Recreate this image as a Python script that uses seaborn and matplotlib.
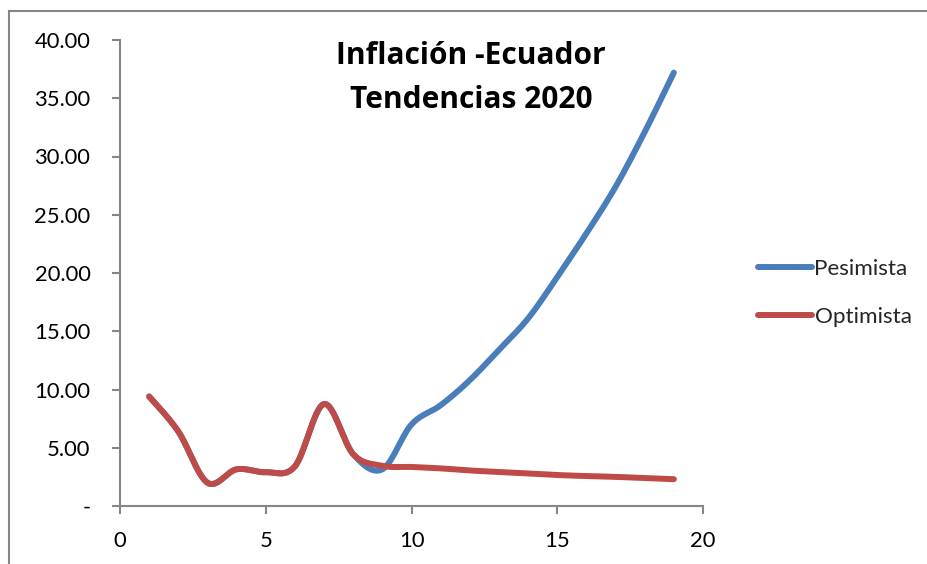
import numpy as np
import pandas as pd
import matplotlib
matplotlib.use("Agg")
import matplotlib.pyplot as plt
import seaborn as sns
from matplotlib.patches import Rectangle
from matplotlib.ticker import FuncFormatter, MultipleLocator

# Inflation series (percent) by period
periodos = list(range(1, 20))
pesimista = [9.4, 6.4, 2.0, 3.15, 2.9, 3.4, 8.75, 4.45, 3.15, 7.0,
             8.65, 10.8, 13.4, 16.1, 19.65, 23.4, 27.4, 32.1, 37.2]
optimista = [9.4, 6.4, 2.0, 3.15, 2.9, 3.4, 8.75, 4.45, 3.45, 3.35,
             3.23, 3.05, 2.92, 2.8, 2.66, 2.57, 2.5, 2.4, 2.3]
series = ["Pesimista", "Optimista"]
colores = ["#4A7EBB", "#BE4B48"]
titulo = ["Inflación -Ecuador", "Tendencias 2020"]

GRIS = "#868686"
FONT = "Lato"
FONT_TITULO = "Open Sans"


def suavizar(x, y, n=30):
    """Smooth a polyline with cubic Bezier segments (Catmull-Rom tangents)."""
    px = np.asarray(x, float)
    py = np.asarray(y, float)
    m = len(px)
    xs, ys = [], []
    for i in range(m - 1):
        i0 = max(i - 1, 0)
        i3 = min(i + 2, m - 1)
        p0 = np.array([px[i], py[i]])
        p3 = np.array([px[i + 1], py[i + 1]])
        c1 = p0 + (np.array([px[i + 1], py[i + 1]]) - np.array([px[i0], py[i0]])) / 6
        c2 = p3 - (np.array([px[i3], py[i3]]) - np.array([px[i], py[i]])) / 6
        t = np.linspace(0, 1, n, endpoint=(i == m - 2))[:, None]
        b = ((1 - t) ** 3) * p0 + 3 * ((1 - t) ** 2) * t * c1 + 3 * (1 - t) * t ** 2 * c2 + t ** 3 * p3
        xs.append(b[:, 0])
        ys.append(b[:, 1])
    return np.concatenate(xs), np.concatenate(ys)


frames = []
for nombre, valores in zip(series, [pesimista, optimista]):
    sx, sy = suavizar(periodos, valores)
    frames.append(pd.DataFrame({"periodo": sx, "valor": sy, "serie": nombre}))
df = pd.concat(frames, ignore_index=True)

sns.set_theme(style="white")
plt.rcParams["font.family"] = [FONT, "DejaVu Sans"]

W, H = 927, 564
fig = plt.figure(figsize=(W / 100, H / 100), dpi=100)
ax = fig.add_axes([120 / W, (H - 506) / H, (703 - 120) / W, (506 - 40) / H])

sns.lineplot(data=df, x="periodo", y="valor", hue="serie", hue_order=series,
             palette=colores, linewidth=4.3, sort=False, estimator=None, ax=ax)
for ln in ax.lines:
    ln.set_solid_capstyle("round")
    ln.set_solid_joinstyle("round")

ax.set_xlim(0, 20)
ax.set_ylim(0, 40)
ax.xaxis.set_major_locator(MultipleLocator(5))
ax.yaxis.set_major_locator(MultipleLocator(5))
ax.yaxis.set_major_formatter(FuncFormatter(lambda v, _: "-" if abs(v) < 1e-9 else f"{v:.2f}"))
ax.set_xlabel("")
ax.set_ylabel("")

for s in ["top", "right"]:
    ax.spines[s].set_visible(False)
for s in ["left", "bottom"]:
    ax.spines[s].set_color(GRIS)
    ax.spines[s].set_linewidth(1.5)

ax.tick_params(axis="both", which="major", direction="out", length=5.8, width=1.5,
               color=GRIS, labelcolor="black", labelsize=15.8)
ax.tick_params(axis="y", pad=15.5, left=True)
ax.tick_params(axis="x", pad=12.5, bottom=True)

leg = ax.legend(loc="center left", bbox_to_anchor=(747 / W, (H - 293) / H),
                bbox_transform=fig.transFigure, frameon=False, fontsize=16.2,
                handlelength=2.4, handletextpad=0.1, labelspacing=1.22, borderpad=0)
for h in leg.get_lines():
    h.set_linewidth(4.3)
    h.set_solid_capstyle("round")

for texto, base in zip(titulo, [64, 108]):
    fig.text(471 / W, (H - base) / H, texto, ha="center", va="baseline",
             fontsize=21.5, fontweight="bold", color="black",
             family=[FONT_TITULO, "DejaVu Sans"])

fig.add_artist(Rectangle((9 / W, -0.1), 1.2, (H - 11) / H + 0.1, transform=fig.transFigure,
                         fill=False, edgecolor=GRIS, linewidth=1.5, clip_on=False))

fig.savefig("out.png", dpi=100)
